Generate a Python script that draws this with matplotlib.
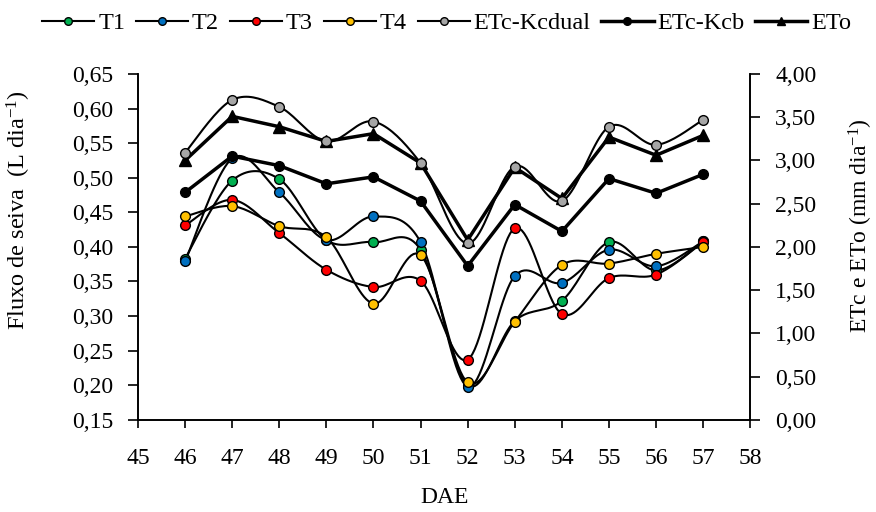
import numpy as np
import matplotlib
matplotlib.use("Agg")
import matplotlib.pyplot as plt
from matplotlib.ticker import FuncFormatter, MultipleLocator

DAE = [46, 47, 48, 49, 50, 51, 52, 53, 54, 55, 56, 57]

T1 = [0.383, 0.496, 0.498, 0.410, 0.407, 0.396, 0.200, 0.293, 0.322, 0.407, 0.366, 0.408]
T2 = [0.379, 0.528, 0.479, 0.410, 0.444, 0.407, 0.198, 0.358, 0.348, 0.396, 0.372, 0.408]
T3 = [0.431, 0.468, 0.420, 0.367, 0.342, 0.351, 0.237, 0.427, 0.303, 0.355, 0.360, 0.407]
T4 = [0.444, 0.459, 0.430, 0.414, 0.318, 0.388, 0.204, 0.292, 0.374, 0.376, 0.390, 0.400]

ETc_Kcdual = [3.09, 3.70, 3.62, 3.22, 3.45, 2.97, 2.04, 2.93, 2.53, 3.39, 3.18, 3.47]
ETc_Kcb = [2.63, 3.05, 2.94, 2.73, 2.81, 2.53, 1.78, 2.49, 2.18, 2.79, 2.62, 2.84]
ETo = [3.00, 3.51, 3.39, 3.22, 3.31, 2.97, 2.08, 2.92, 2.56, 3.27, 3.06, 3.29]

plt.rcParams['font.family'] = ['Liberation Serif', 'DejaVu Serif']
plt.rcParams['mathtext.fontset'] = 'custom'
plt.rcParams['mathtext.rm'] = 'Liberation Serif'
plt.rcParams['mathtext.it'] = 'Liberation Serif:italic'
plt.rcParams['font.size'] = 17


def smooth(x, y, n=20):
    # Excel-like smoothed line (Catmull-Rom through the points)
    x = np.asarray(x, float)
    y = np.asarray(y, float)
    px = np.concatenate([[x[0]], x, [x[-1]]])
    py = np.concatenate([[y[0]], y, [y[-1]]])
    xs, ys = [], []
    t = np.linspace(0, 1, n, endpoint=False)
    for i in range(1, len(px) - 2):
        p0, p1, p2, p3 = px[i - 1], px[i], px[i + 1], px[i + 2]
        q0, q1, q2, q3 = py[i - 1], py[i], py[i + 1], py[i + 2]
        c1x, c1y = p1 + (p2 - p0) / 6, q1 + (q2 - q0) / 6
        c2x, c2y = p2 - (p3 - p1) / 6, q2 - (q3 - q1) / 6
        xs.append((1 - t) ** 3 * p1 + 3 * (1 - t) ** 2 * t * c1x + 3 * (1 - t) * t ** 2 * c2x + t ** 3 * p2)
        ys.append((1 - t) ** 3 * q1 + 3 * (1 - t) ** 2 * t * c1y + 3 * (1 - t) * t ** 2 * c2y + t ** 3 * q2)
    xs.append([x[-1]])
    ys.append([y[-1]])
    return np.concatenate(xs), np.concatenate(ys)


fig = plt.figure(figsize=(8.76, 5.12), dpi=100)
ax = fig.add_axes([0.1575, 0.18, 0.699, 0.6755])
ax2 = ax.twinx()

handles = []
for vals, col, name in [(T1, '#00b050', 'T1'), (T2, '#0070c0', 'T2'),
                        (T3, '#ff0000', 'T3'), (T4, '#ffc000', 'T4')]:
    sx, sy = smooth(DAE, vals)
    ax.plot(sx, sy, color='black', lw=1.5, zorder=2)
    ax.plot(DAE, vals, ls='none', marker='o', ms=7, mfc=col, mec='black', mew=1.0, zorder=3)
    h, = ax.plot([], [], color='black', lw=1.5, marker='o', ms=5.5, mfc=col, mec='black', label=name)
    handles.append(h)

sx, sy = smooth(DAE, ETc_Kcdual)
ax2.plot(sx, sy, color='black', lw=1.5, zorder=2)
ax2.plot(DAE, ETc_Kcdual, ls='none', marker='o', ms=7, mfc='#a6a6a6', mec='black', mew=1.0, zorder=3)
h, = ax.plot([], [], color='black', lw=1.5, marker='o', ms=5.5, mfc='#a6a6a6', mec='black', label='ETc-Kcdual')
handles.append(h)

ax2.plot(DAE, ETc_Kcb, color='black', lw=2.5, marker='o', ms=7, mfc='black', mec='black')
ax2.plot(DAE, ETo, color='black', lw=2.5, marker='^', ms=8, mfc='black', mec='black')
h, = ax.plot([], [], color='black', lw=2.5, marker='o', ms=5.5, mfc='black', mec='black', label='ETc-Kcb')
handles.append(h)
h, = ax.plot([], [], color='black', lw=2.5, marker='^', ms=6, mfc='black', mec='black', label='ETo')
handles.append(h)

ax.set_xlim(45, 58)
ax.set_ylim(0.15, 0.65)
ax2.set_ylim(0, 4)
ax.xaxis.set_major_locator(MultipleLocator(1))
ax.yaxis.set_major_locator(MultipleLocator(0.05))
ax2.yaxis.set_major_locator(MultipleLocator(0.5))
ax.yaxis.set_major_formatter(FuncFormatter(lambda v, p: f"{v:.2f}".replace('.', ',')))
ax2.yaxis.set_major_formatter(FuncFormatter(lambda v, p: f"{v:.2f}".replace('.', ',')))

for a in (ax, ax2):
    a.tick_params(axis='y', direction='out', length=7, width=1.2, labelsize=17, pad=11)
    for s in a.spines.values():
        s.set_linewidth(1.2)
ax.tick_params(axis='x', direction='out', length=6, width=1.2, labelsize=17, pad=14)
ax.spines['top'].set_visible(False)
ax2.spines['top'].set_visible(False)

ax.set_xlabel('DAE', fontsize=17)
ax.set_ylabel('Fluxo de seiva  (L dia$^{-1}$)', fontsize=17.5)
ax2.set_ylabel('ETc e ETo (mm dia$^{-1}$)', fontsize=17)
ax.xaxis.set_label_coords(0.5, -0.195)
ax.yaxis.set_label_coords(-0.172, 0.607)
ax2.yaxis.set_label_coords(1.158, 0.561)

fig.legend(handles=handles, loc='center', bbox_to_anchor=(0.51, 0.955), ncol=7, frameon=False,
           fontsize=17.5, handlelength=2.14, handletextpad=0.16, columnspacing=0.45, borderpad=0)

fig.savefig('out.png', dpi=100)
